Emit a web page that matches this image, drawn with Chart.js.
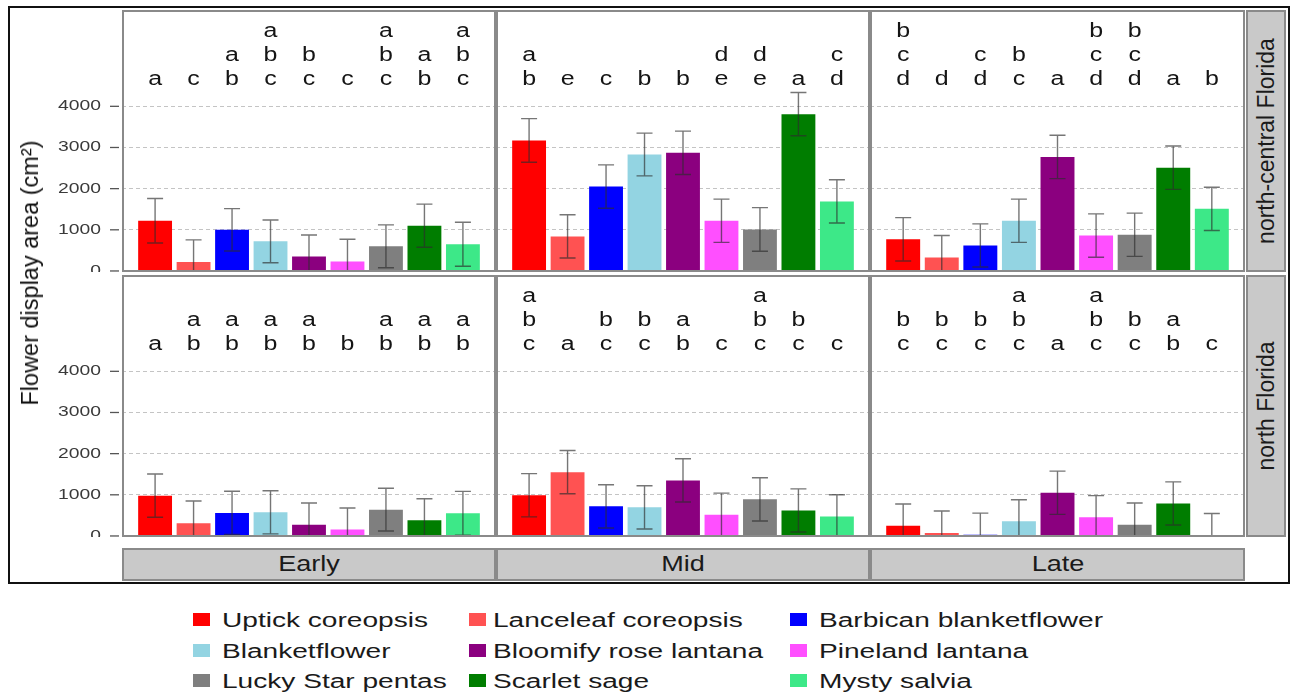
<!DOCTYPE html>
<html>
<head>
<meta charset="utf-8">
<script src="https://cdn.jsdelivr.net/npm/chart.js@4.4.1/dist/chart.umd.min.js"></script>
<style>
  body { margin:0; background:#fff; width:1291px; height:696px; position:relative; overflow:hidden;
         font-family:"Liberation Sans", Arial, sans-serif; color:#1a1a1a; }
  canvas { position:absolute; }
  #frame { position:absolute; left:8px; top:6px; width:1278px; height:574px; border:2px solid #111; }
  .strip { position:absolute; background:#c9c9c9; border:2px solid #8a8a8a; box-sizing:border-box; }
  .txt { position:absolute; white-space:nowrap; }
  .sq { position:absolute; width:17px; height:13px; }
</style>
</head>
<body>
<div id="frame"></div>
<script>
// --- DADOS ---
const TREATMENTS = ['Uptick coreopsis', 'Lanceleaf coreopsis', 'Barbican blanketflower',
                    'Blanketflower', 'Bloomify rose lantana', 'Pineland lantana',
                    'Lucky Star pentas', 'Scarlet sage', 'Mysty salvia'];
const COLORS = ['#ff0000', '#ff5252', '#0000ff', '#93d4e2', '#8b007f',
                '#ff4fff', '#7f7f7f', '#007d00', '#3de888'];
const SEASONS = ['Early', 'Mid', 'Late'];
const REGIONS = ['north-central Florida', 'north Florida'];
const Y_TICKS = [0, 1000, 2000, 3000, 4000];
const LETTER_ROWS = [4510, 5095, 5680]; // baseline of letter rows, bottom to top

// north-central Florida
const NCF_EARLY    = [1220, 220, 1000, 720, 350, 230, 600, 1100, 650];
const NCF_EARLY_SE = [540, 535, 515, 520, 525, 540, 520, 525, 535];
const NCF_MID      = [3170, 840, 2050, 2830, 2870, 1220, 1010, 3810, 1690];
const NCF_MID_SE   = [530, 525, 527, 520, 527, 525, 530, 525, 525];
const NCF_LATE     = [770, 330, 620, 1220, 2770, 860, 880, 2510, 1510];
const NCF_LATE_SE  = [527, 530, 525, 525, 527, 527, 525, 527, 525];
// north Florida
const NF_EARLY     = [980, 310, 560, 575, 275, 155, 640, 380, 550];
const NF_EARLY_SE  = [525, 540, 525, 525, 525, 525, 518, 525, 533];
const NF_MID       = [990, 1550, 720, 695, 1350, 515, 890, 620, 475];
const NF_MID_SE    = [525, 525, 525, 525, 525, 525, 525, 525, 525];
const NF_LATE      = [250, 75, 30, 355, 1050, 455, 275, 790, 25];
const NF_LATE_SE   = [525, 530, 525, 525, 525, 525, 525, 525, 520];

// letras (de cima para baixo)
const NCF_EARLY_LET = ['a', 'c', 'ab', 'abc', 'bc', 'c', 'abc', 'ab', 'abc'];
const NCF_MID_LET   = ['ab', 'e', 'c', 'b', 'b', 'de', 'de', 'a', 'cd'];
const NCF_LATE_LET  = ['bcd', 'd', 'cd', 'bc', 'a', 'bcd', 'bcd', 'a', 'b'];
const NF_EARLY_LET  = ['a', 'ab', 'ab', 'ab', 'ab', 'b', 'ab', 'ab', 'ab'];
const NF_MID_LET    = ['abc', 'a', 'bc', 'bc', 'ab', 'c', 'abc', 'bc', 'c'];
const NF_LATE_LET   = ['bc', 'bc', 'bc', 'abc', 'a', 'abc', 'bc', 'ab', 'c'];

const PANELS = [
  [ {v:NCF_EARLY, se:NCF_EARLY_SE, let:NCF_EARLY_LET},
    {v:NCF_MID,   se:NCF_MID_SE,   let:NCF_MID_LET},
    {v:NCF_LATE,  se:NCF_LATE_SE,  let:NCF_LATE_LET} ],
  [ {v:NF_EARLY,  se:NF_EARLY_SE,  let:NF_EARLY_LET},
    {v:NF_MID,    se:NF_MID_SE,    let:NF_MID_LET},
    {v:NF_LATE,   se:NF_LATE_SE,   let:NF_LATE_LET} ]
];

// --- LAYOUT ---
const COL_X = [122, 496, 870];
const COL_W = [374, 374, 375];
const ROW_Y = [10, 275];
const ROW_H = 262;
const AXIS_PAD = 82;
const FONT = '"Liberation Sans", Arial, sans-serif';

function stretchText(ctx, t, x, y, sx) {
  ctx.save();
  ctx.translate(x, y);
  ctx.scale(sx, 1);
  ctx.fillText(t, 0, 0);
  ctx.restore();
}

function makeDeco(p, withAxis) {
  return {
    id: 'deco',
    afterDatasetsDraw(chart) {
      const { ctx, chartArea: a, scales: { x, y } } = chart;
      // barras de erro
      ctx.save();
      ctx.beginPath();
      ctx.rect(a.left, a.top, a.right - a.left, a.bottom - a.top);
      ctx.clip();
      ctx.strokeStyle = 'rgba(45,45,45,0.65)';
      ctx.lineWidth = 1.4;
      p.v.forEach((v, i) => {
        const px = x.getPixelForValue(i);
        const hi = y.getPixelForValue(v + p.se[i]);
        const lo = y.getPixelForValue(v - p.se[i]);
        ctx.beginPath();
        ctx.moveTo(px, hi); ctx.lineTo(px, lo);
        ctx.moveTo(px - 8, hi); ctx.lineTo(px + 8, hi);
        ctx.moveTo(px - 8, lo); ctx.lineTo(px + 8, lo);
        ctx.stroke();
      });
      ctx.restore();

      // letras
      ctx.save();
      ctx.fillStyle = '#151515';
      ctx.font = '19.5px ' + FONT;
      ctx.textAlign = 'center';
      ctx.textBaseline = 'alphabetic';
      p.let.forEach((s, i) => {
        const px = x.getPixelForValue(i);
        const n = s.length;
        for (let k = 0; k < n; k++) {
          stretchText(ctx, s[k], px, y.getPixelForValue(LETTER_ROWS[n - 1 - k]), 1.28);
        }
      });
      ctx.restore();
    },
    afterDraw(chart) {
      const { ctx, chartArea: a, scales: { y } } = chart;
      ctx.save();
      ctx.strokeStyle = '#8a8a8a';
      ctx.lineWidth = 2;
      ctx.strokeRect(a.left + 1, a.top + 1, a.right - a.left - 2, a.bottom - a.top - 2);
      if (withAxis) {
        ctx.fillStyle = '#3a3a3a';
        ctx.strokeStyle = '#555';
        ctx.lineWidth = 1.3;
        ctx.font = '14px ' + FONT;
        ctx.textAlign = 'right';
        ctx.textBaseline = 'middle';
        Y_TICKS.forEach(t => {
          const py = y.getPixelForValue(t);
          ctx.beginPath();
          ctx.moveTo(a.left - 12, py); ctx.lineTo(a.left - 3, py);
          ctx.stroke();
          ctx.save();
          ctx.translate(a.left - 21, py);
          ctx.scale(1.38, 1);
          ctx.fillText(String(t), 0, 0);
          ctx.restore();
        });
      }
      ctx.restore();
    }
  };
}

function buildPanel(r, c) {
  const p = PANELS[r][c];
  const withAxis = c === 0;
  const cv = document.createElement('canvas');
  const left = withAxis ? COL_X[c] - AXIS_PAD : COL_X[c];
  const w = COL_W[c] + (withAxis ? AXIS_PAD : 0);
  cv.width = w; cv.height = ROW_H;
  cv.style.left = left + 'px'; cv.style.top = ROW_Y[r] + 'px';
  cv.style.width = w + 'px'; cv.style.height = ROW_H + 'px';
  document.body.appendChild(cv);

  new Chart(cv, {
    type: 'bar',
    data: {
      datasets: [{
        data: p.v.map((v, i) => ({ x: i, y: v })),
        backgroundColor: COLORS,
        borderWidth: 0,
        barPercentage: 0.88,
        categoryPercentage: 1.0
      }]
    },
    options: {
      responsive: false,
      animation: false,
      devicePixelRatio: 1,
      layout: { padding: { left: withAxis ? AXIS_PAD : 0, right: 0, top: 0, bottom: 0 } },
      plugins: { legend: { display: false }, tooltip: { enabled: false } },
      scales: {
        x: { type: 'linear', min: -0.86, max: 8.86, offset: false, display: false },
        y: {
          min: -25, max: 6340,
          afterBuildTicks: s => { s.ticks = Y_TICKS.map(v => ({ value: v })); },
          ticks: { display: false },
          border: { display: false, dash: [4, 3] },
          grid: {
            drawTicks: false,
            lineWidth: 1,
            color: ctx => (ctx.tick && ctx.tick.value === 0) ? 'rgba(0,0,0,0)' : '#c4c4c4'
          }
        }
      }
    },
    plugins: [makeDeco(p, withAxis)]
  });
}

for (let r = 0; r < 2; r++) for (let c = 0; c < 3; c++) buildPanel(r, c);

// --- FAIXAS E TEXTOS ---
function addDiv(cls, styles, html) {
  const d = document.createElement('div');
  d.className = cls;
  Object.assign(d.style, styles);
  if (html !== undefined) d.innerHTML = html;
  document.body.appendChild(d);
  return d;
}

SEASONS.forEach((s, c) => {
  addDiv('strip', { left: COL_X[c] + 'px', top: '548px', width: COL_W[c] + 'px', height: '33px' });
  addDiv('txt', { left: (COL_X[c] + COL_W[c] / 2) + 'px', top: '564px', fontSize: '22px',
    lineHeight: '24px', transform: 'translate(-50%,-50%) scaleX(1.23)' }, s);
});

REGIONS.forEach((g, r) => {
  addDiv('strip', { left: '1246px', top: ROW_Y[r] + 'px', width: '40px', height: ROW_H + 'px' });
  addDiv('txt', { left: '1266px', top: (ROW_Y[r] + ROW_H / 2) + 'px', fontSize: '23px',
    lineHeight: '24px', transform: 'translate(-50%,-50%) rotate(-90deg)' }, g);
});

addDiv('txt', { left: '30px', top: '273px', fontSize: '23.5px', lineHeight: '26px',
  transform: 'translate(-50%,-50%) rotate(-90deg)', color: '#111' }, 'Flower display area (cm²)');

// --- LEGENDA ---
const LEG_SQ_X = [193, 469, 790];
const LEG_TX_X = [222, 493, 819];
const LEG_BASE = [627, 658, 688];
TREATMENTS.forEach((t, i) => {
  const col = i % 3, row = Math.floor(i / 3);
  addDiv('sq', { left: LEG_SQ_X[col] + 'px', top: (LEG_BASE[row] - 14) + 'px', background: COLORS[i] });
  addDiv('txt', { left: LEG_TX_X[col] + 'px', top: (LEG_BASE[row] - 17) + 'px', fontSize: '19.5px',
    lineHeight: '20px', transformOrigin: 'left center', transform: 'scaleX(1.44)' }, t);
});
</script>
</body>
</html>
